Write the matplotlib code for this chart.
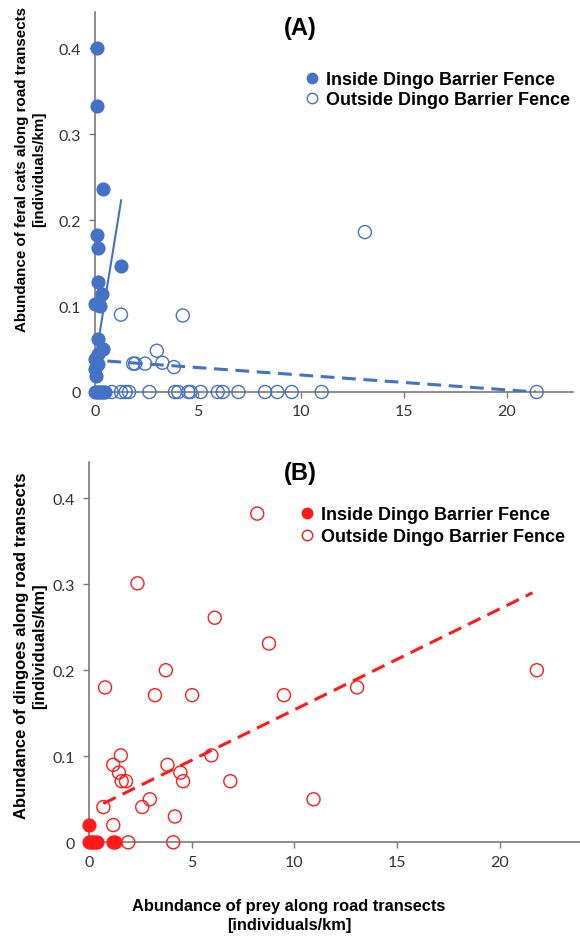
import matplotlib
matplotlib.use("Agg")
import matplotlib.pyplot as plt
from matplotlib.lines import Line2D

# ---------------- data ----------------
# Panel A: feral cats vs prey
catsIn_x = [0.1, 0.1, 0.4, 0.1, 0.16, 1.25, 0.16, 0.32, 0.0, 0.24, 0.16, 0.4,
            0.16, 0.0, 0.16, 0.0, 0.05, 0.0, 0.1, 0.2, 0.3, 0.4, 0.5]
catsIn_y = [0.40, 0.333, 0.236, 0.183, 0.167, 0.147, 0.128, 0.114, 0.102, 0.10,
            0.062, 0.05, 0.044, 0.038, 0.033, 0.027, 0.019, 0, 0, 0, 0, 0, 0]
catsOut_x = [1.26, 4.26, 3.0, 1.85, 1.95, 2.43, 3.27, 3.83, 13.1,
             0.81, 1.26, 1.49, 1.65, 2.64, 3.88, 4.04, 4.53, 4.64, 5.13,
             5.96, 6.2, 6.96, 8.25, 8.85, 9.55, 11.0, 21.44]
catsOut_y = [0.09, 0.089, 0.048, 0.033, 0.033, 0.033, 0.034, 0.029, 0.186,
             0, 0, 0, 0, 0, 0, 0, 0, 0, 0, 0, 0, 0, 0, 0, 0, 0, 0]
catsInTrend_x = [0.0, 1.27]
catsInTrend_y = [0.035, 0.223]
catsOutTrend_x = [0.6, 21.4]
catsOutTrend_y = [0.036, 0.0]

# Panel B: dingoes vs prey
dingIn_x = [0.0, 0.0, 0.1, 0.2, 0.3, 0.4, 1.15, 1.25]
dingIn_y = [0.02, 0, 0, 0, 0, 0, 0, 0]
dingOut_x = [8.19, 2.36, 6.12, 8.76, 3.74, 21.8, 0.78, 13.05, 3.21, 5.02, 9.49,
             1.55, 5.96, 1.18, 3.82, 1.46, 4.45, 1.59, 1.80, 4.58, 6.88, 2.96,
             10.93, 0.70, 2.59, 4.18, 1.18, 1.91, 4.10]
dingOut_y = [0.382, 0.301, 0.261, 0.231, 0.200, 0.200, 0.180, 0.180, 0.171, 0.171,
             0.171, 0.101, 0.101, 0.090, 0.090, 0.081, 0.081, 0.071, 0.071, 0.071,
             0.071, 0.050, 0.050, 0.041, 0.041, 0.030, 0.020, 0.0, 0.0]
dingOutTrend_x = [0.70, 21.59]
dingOutTrend_y = [0.045, 0.290]

x_ticks = [0, 5, 10, 15, 20]
y_ticks = [0, 0.1, 0.2, 0.3, 0.4]
y_ticklabels = ["0", "0.1", "0.2", "0.3", "0.4"]
legend_labels = ["Inside Dingo Barrier Fence", "Outside Dingo Barrier Fence"]

BLUE = "#4472C4"
RED = "#FF1A1A"
AXC = "#7A7A7A"
TICKC = "#333333"
ARIAL = ["Liberation Sans", "DejaVu Sans"]

W, H = 580, 937
fig = plt.figure(figsize=(W / 100, H / 100), dpi=100)


def frac_rect(l, t, r, b):
    return [l / W, 1 - b / H, (r - l) / W, (b - t) / H]


axA = fig.add_axes(frac_rect(95, 13, 573, 393))
axB = fig.add_axes(frac_rect(89, 463, 580, 843.3))


def style(ax, xmax):
    ax.set_xlim(0, xmax)
    ax.set_ylim(0, 0.442)
    for s in ["top", "right"]:
        ax.spines[s].set_visible(False)
    for s in ["left", "bottom"]:
        ax.spines[s].set_color(AXC)
        ax.spines[s].set_linewidth(1.2)
    ax.set_xticks(x_ticks)
    ax.set_xticklabels([str(t) for t in x_ticks])
    ax.set_yticks(y_ticks)
    ax.set_yticklabels(y_ticklabels)
    ax.tick_params(axis="both", direction="out", length=4, width=1.0,
                   color=AXC, labelcolor=TICKC, labelsize=11.5)
    ax.tick_params(axis="y", pad=6)
    ax.tick_params(axis="x", pad=5)
    for lab in ax.get_xticklabels() + ax.get_yticklabels():
        lab.set_family(["Lato", "DejaVu Sans"])
    ax.patch.set_visible(False)


style(axA, 23.2)
style(axB, 23.9)

ms = 88
# Panel A
axA.scatter(catsIn_x, catsIn_y, s=ms, color=BLUE, edgecolors=BLUE, linewidths=0.8,
            clip_on=False, zorder=3)
axA.scatter(catsOut_x, catsOut_y, s=ms, facecolors="none", edgecolors=BLUE,
            linewidths=1.0, clip_on=False, zorder=4)
axA.plot(catsInTrend_x, catsInTrend_y, color=BLUE, lw=1.5, zorder=5)
axA.plot(catsOutTrend_x, catsOutTrend_y, color=BLUE, lw=2.2, dashes=(4.5, 2.5),
         zorder=5)

# Panel B
axB.scatter(dingIn_x, dingIn_y, s=ms, color=RED, edgecolors=RED, linewidths=0.8,
            clip_on=False, zorder=3)
axB.scatter(dingOut_x, dingOut_y, s=ms, facecolors="none", edgecolors=RED,
            linewidths=1.0, clip_on=False, zorder=4)
axB.plot(dingOutTrend_x, dingOutTrend_y, color=RED, lw=2.2, dashes=(4.5, 2.5),
         zorder=5)


# Legends
def add_legend(ax, color, x0, ytop, spacing):
    handles = [Line2D([], [], ls="none", marker="o", ms=7.5, color=color),
               Line2D([], [], ls="none", marker="o", ms=7.5, mfc="none",
                      mec=color, mew=1.0)]
    leg = ax.legend(handles, legend_labels, loc="upper left",
                    bbox_to_anchor=(x0 / W, 1 - ytop / H),
                    bbox_transform=fig.transFigure, frameon=False,
                    borderpad=0, borderaxespad=0, handlelength=0.75,
                    handletextpad=0.4, labelspacing=spacing,
                    prop={"family": ARIAL, "weight": "bold", "size": 13})
    return leg


add_legend(axA, BLUE, 305, 72, 0.16)
add_legend(axB, RED, 300, 507, 0.3)

# Panel titles
fig.text(300 / W, 1 - 28 / H, "(A)", ha="center", va="center", fontsize=17,
         fontweight="bold", family=ARIAL)
fig.text(300 / W, 1 - 474 / H, "(B)", ha="center", va="center", fontsize=17,
         fontweight="bold", family=ARIAL)

# Y labels
fig.text(30.5 / W, 1 - 169 / H,
         "Abundance of feral cats along road transects\n[individuals/km]",
         rotation=90, ha="center", va="center", multialignment="center",
         fontsize=10.9, fontweight="bold", linespacing=1.35, family=ARIAL)
fig.text(30.5 / W, 1 - 646 / H,
         "Abundance of dingoes along road transects\n[individuals/km]",
         rotation=90, ha="center", va="center", multialignment="center",
         fontsize=12.0, fontweight="bold", linespacing=1.2, family=ARIAL)

# X label
fig.text(289 / W, 1 - 916 / H,
         "Abundance of prey along road transects\n[individuals/km]",
         ha="center", va="center", multialignment="center",
         fontsize=11.8, fontweight="bold", linespacing=1.4, family=ARIAL)

fig.savefig("out.png", dpi=100)
